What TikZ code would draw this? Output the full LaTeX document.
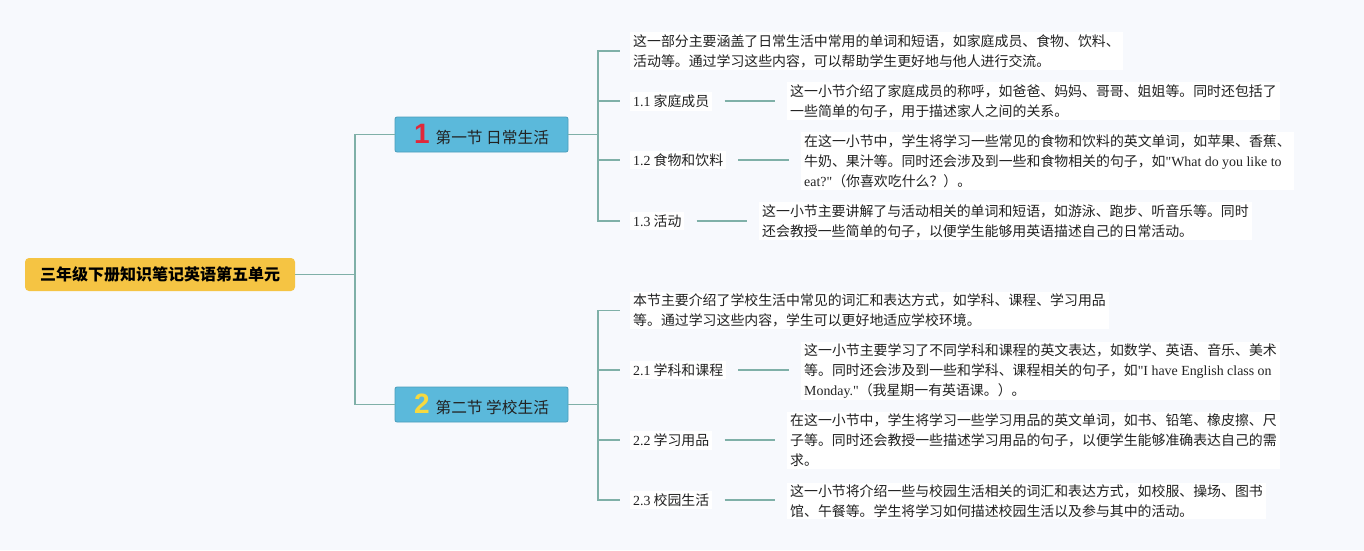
\documentclass[tikz,border=0pt]{standalone}
\usepackage{fontspec}
\setmainfont{Noto Sans CJK SC}
\newfontfamily\serif{Liberation Serif}
\newfontfamily\numfont{Liberation Sans}
\newcommand\lat[1]{{\serif #1}}
\newcommand\dsize{\fontsize{13.9}{20}\selectfont}
\definecolor{bg}{HTML}{F7F9FD}
\definecolor{linec}{HTML}{7FB0A8}
\definecolor{rootc}{HTML}{F5C443}
\definecolor{secc}{HTML}{5BB9DB}
\definecolor{secb}{HTML}{4A9DBB}
\definecolor{txt}{HTML}{222222}
\definecolor{numr}{HTML}{E0283A}
\definecolor{numy}{HTML}{F6D940}
\tikzset{
  conn/.style={draw=linec, line width=1.3pt},
  desc/.style={anchor=west, align=left, inner xsep=3pt, inner ysep=2pt, fill=white, font=\dsize, text=txt},
  itemnode/.style={anchor=west, inner xsep=3pt, inner ysep=3pt, fill=white, font=\dsize, text=txt},
  secbox/.style={draw=secb, line width=0.8pt, fill=secc, rounded corners=2pt, minimum width=173pt, minimum height=35pt, inner sep=0pt, font=\fontsize{15.7}{18}\selectfont, text=txt},
  rootbox/.style={fill=rootc, rounded corners=4pt, minimum width=270pt, minimum height=33pt, inner sep=0pt, font=\fontsize{16}{18}\selectfont\bfseries, text=black}
}
\begin{document}
\begin{tikzpicture}[x=1pt,y=-1pt]
\fill[bg] (0,0) rectangle (1364,550);
\useasboundingbox (0,0) rectangle (1364,550);

% root
\node[rootbox] (root) at (160,274.5) {三年级下册知识笔记英语第五单元};

% sections
\node[secbox] (s1) at (481.5,134.5) {{\numfont\bfseries\fontsize{28}{28}\selectfont\color{numr}1}\hspace{6pt}第一节 日常生活};
\node[secbox] (s2) at (481.5,404.5) {{\numfont\bfseries\fontsize{28}{28}\selectfont\color{numy}2}\hspace{6pt}第二节 学校生活};

\coordinate (j0) at (355,274.5);
\draw[conn] (root.east) -- (j0);
\draw[conn] (j0) |- (s1.west);
\draw[conn] (j0) |- (s2.west);

% section 1 children
\node[desc] (d1) at (630,51) {这一部分主要涵盖了日常生活中常用的单词和短语，如家庭成员、食物、饮料、\\活动等。通过学习这些内容，可以帮助学生更好地与他人进行交流。};
\node[itemnode] (i11) at (630,101) {\lat{1.1} 家庭成员};
\node[desc] (e11) at (787,101) {这一小节介绍了家庭成员的称呼，如爸爸、妈妈、哥哥、姐姐等。同时还包括了\\一些简单的句子，用于描述家人之间的关系。};
\node[itemnode] (i12) at (630,160) {\lat{1.2} 食物和饮料};
\node[desc] (e12) at (801,161) {在这一小节中，学生将学习一些常见的食物和饮料的英文单词，如苹果、香蕉、\\牛奶、果汁等。同时还会涉及到一些和食物相关的句子，如\lat{"What do you like to}\\\lat{eat?"}（你喜欢吃什么？）。};
\node[itemnode] (i13) at (630,221) {\lat{1.3} 活动};
\node[desc] (e13) at (759,221) {这一小节主要讲解了与活动相关的单词和短语，如游泳、跑步、听音乐等。同时\\还会教授一些简单的句子，以便学生能够用英语描述自己的日常活动。};

\coordinate (j1) at (598,134.5);
\draw[conn] (s1.east) -- (j1);
\draw[conn] (j1) |- ([xshift=-10pt]d1.west);
\draw[conn] (j1) |- ([xshift=-10pt]i11.west);
\draw[conn] (j1) |- ([xshift=-10pt]i12.west);
\draw[conn] (j1) |- ([xshift=-10pt]i13.west);
\draw[conn] ([xshift=12pt]i11.east) -- ([xshift=-12pt]i11.east -| e11.west);
\draw[conn] ([xshift=12pt]i12.east) -- ([xshift=-12pt]i12.east -| e12.west);
\draw[conn] ([xshift=12pt]i13.east) -- ([xshift=-12pt]i13.east -| e13.west);

% section 2 children
\node[desc] (d2) at (630,310.5) {本节主要介绍了学校生活中常见的词汇和表达方式，如学科、课程、学习用品\\等。通过学习这些内容，学生可以更好地适应学校环境。};
\node[itemnode] (i21) at (630,370) {\lat{2.1} 学科和课程};
\node[desc] (e21) at (801,371) {这一小节主要学习了不同学科和课程的英文表达，如数学、英语、音乐、美术\\等。同时还会涉及到一些和学科、课程相关的句子，如\lat{"I have English class on}\\\lat{Monday."}（我星期一有英语课。）。};
\node[itemnode] (i22) at (630,440) {\lat{2.2} 学习用品};
\node[desc] (e22) at (787,440.5) {在这一小节中，学生将学习一些学习用品的英文单词，如书、铅笔、橡皮擦、尺\\子等。同时还会教授一些描述学习用品的句子，以便学生能够准确表达自己的需\\求。};
\node[itemnode] (i23) at (630,500) {\lat{2.3} 校园生活};
\node[desc] (e23) at (787,501) {这一小节将介绍一些与校园生活相关的词汇和表达方式，如校服、操场、图书\\馆、午餐等。学生将学习如何描述校园生活以及参与其中的活动。};

\coordinate (j2) at (598,404.5);
\draw[conn] (s2.east) -- (j2);
\draw[conn] (j2) |- ([xshift=-10pt]d2.west);
\draw[conn] (j2) |- ([xshift=-10pt]i21.west);
\draw[conn] (j2) |- ([xshift=-10pt]i22.west);
\draw[conn] (j2) |- ([xshift=-10pt]i23.west);
\draw[conn] ([xshift=12pt]i21.east) -- ([xshift=-12pt]i21.east -| e21.west);
\draw[conn] ([xshift=12pt]i22.east) -- ([xshift=-12pt]i22.east -| e22.west);
\draw[conn] ([xshift=12pt]i23.east) -- ([xshift=-12pt]i23.east -| e23.west);
\end{tikzpicture}
\end{document}
